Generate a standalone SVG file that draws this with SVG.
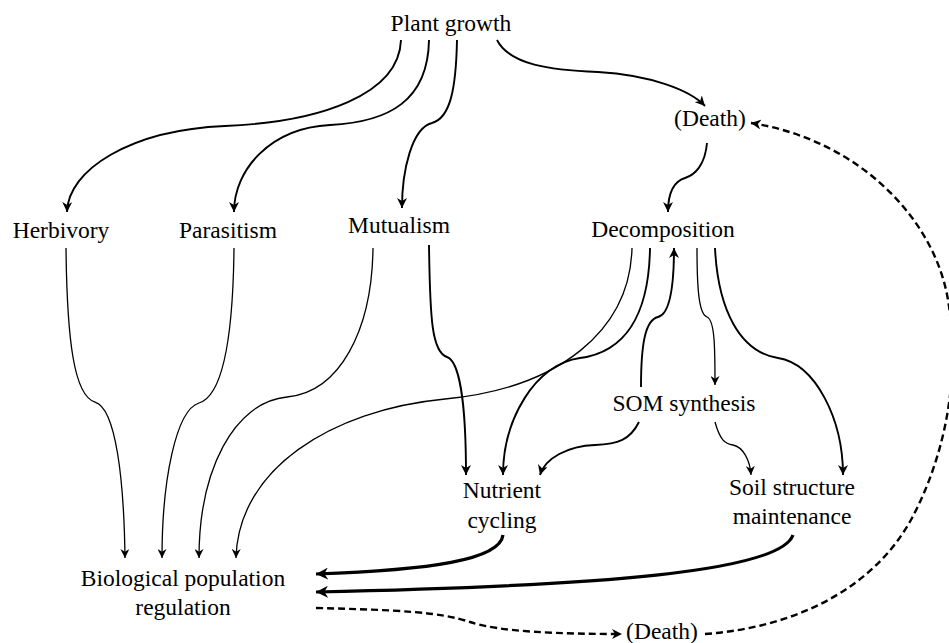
<svg xmlns="http://www.w3.org/2000/svg" width="949" height="643" viewBox="0 0 949 643">
<style>
text{font-family:"Liberation Serif","Times New Roman",serif;font-size:23.5px;fill:#000;text-anchor:middle}
.e{fill:none;stroke:#000;stroke-width:1.3}
.m{stroke-width:1.9}
.t{stroke-width:3.2}
.d{stroke-width:2.4;stroke-dasharray:7,4}
.a{marker-end:url(#ah)}
.am{marker-end:url(#ahm)}
.at{marker-end:url(#aht)}
</style>
<defs>
<marker id="ah" viewBox="0 0 10 10" refX="10" refY="5" markerWidth="9" markerHeight="9" markerUnits="userSpaceOnUse" orient="auto"><path d="M0,0 L10,5 L0,10 L3,5 z"/></marker>
<marker id="ahm" viewBox="0 0 10 10" refX="10" refY="5" markerWidth="10" markerHeight="10" markerUnits="userSpaceOnUse" orient="auto"><path d="M0,0 L10,5 L0,10 L3,5 z"/></marker>
<marker id="aht" viewBox="0 0 10 10" refX="10" refY="5" markerWidth="12" markerHeight="12" markerUnits="userSpaceOnUse" orient="auto"><path d="M0,0 L10,5 L0,10 L3,5 z"/></marker>
</defs>
<g id="connectors">
<path class="e m am" d="M401,40 C399,95 320,122 225,126 C130,130 68,170 67,212"/>
<path class="e m am" d="M429,40 C428,100 390,122 330,125 C270,128 234,170 234,212"/>
<path class="e m am" d="M457,40 C456,90 450,118 432,123 C412,128 402,170 402,208"/>
<path class="e m am" d="M497,40 C510,65 550,70 598,72 C650,75 690,90 705,106"/>
<path class="e m am" d="M707,143 C705,165 695,175 685,178 C672,182 668,195 668,212"/>
<path class="e a" d="M66,248 C67,340 74,396 95,402 C116,408 124,480 125,558"/>
<path class="e a" d="M234,248 C233,340 222,396 199,403 C176,410 162,480 162,558"/>
<path class="e a" d="M373,248 C372,330 340,392 287,397 C234,402 199,470 199,558"/>
<path class="e m am" d="M429,245 C430,320 432,352 447,357 C462,362 466,420 466,475"/>
<path class="e a" d="M632,248 C630,330 560,388 445,399 C330,410 238,470 236,558"/>
<path class="e m am" d="M650,248 C649,315 625,352 580,358 C535,364 503,420 503,475"/>
<path class="e m am" d="M641,387 C641,345 645,320 658,317 C671,314 674,280 674,248"/>
<path class="e a" d="M697,248 C697,290 699,314 707,317 C715,320 715,350 715,385"/>
<path class="e m am" d="M715,248 C718,310 740,352 778,358 C816,364 843,420 843,475"/>
<path class="e m am" d="M639,422 C630,440 618,444 595,445 C568,446 545,458 540,475"/>
<path class="e a" d="M715,422 C720,440 725,444 733,445 C743,447 750,460 751,475"/>
<path class="e t at" d="M503,535 C500,560 430,570 316,574"/>
<path class="e t at" d="M793,535 C780,572 600,586 316,592"/>
<path class="e d am" d="M316,608 C400,610 440,612 470,622 C500,632 560,634 622,634"/>
<path class="e d am" d="M705,634 C790,628 872,592 912,518 C948,450 960,370 948,300 C935,220 860,140 751,123"/>
</g>
<g id="plant-growth"><text x="451" y="31">Plant growth</text></g>
<g id="death-top"><text x="710" y="126">(Death)</text></g>
<g id="herbivory"><text x="61" y="238">Herbivory</text></g>
<g id="parasitism"><text x="228" y="238">Parasitism</text></g>
<g id="mutualism"><text x="399" y="233">Mutualism</text></g>
<g id="decomposition"><text x="663" y="237">Decomposition</text></g>
<g id="som-synthesis"><text x="684" y="411">SOM synthesis</text></g>
<g id="nutrient-cycling"><text x="502" y="498">Nutrient</text><text x="502" y="528">cycling</text></g>
<g id="soil-structure"><text x="792" y="495">Soil structure</text><text x="792" y="524">maintenance</text></g>
<g id="bio-pop"><text x="183" y="586">Biological population</text><text x="183" y="615">regulation</text></g>
<g id="death-bottom"><text x="662" y="639">(Death)</text></g>
</svg>
